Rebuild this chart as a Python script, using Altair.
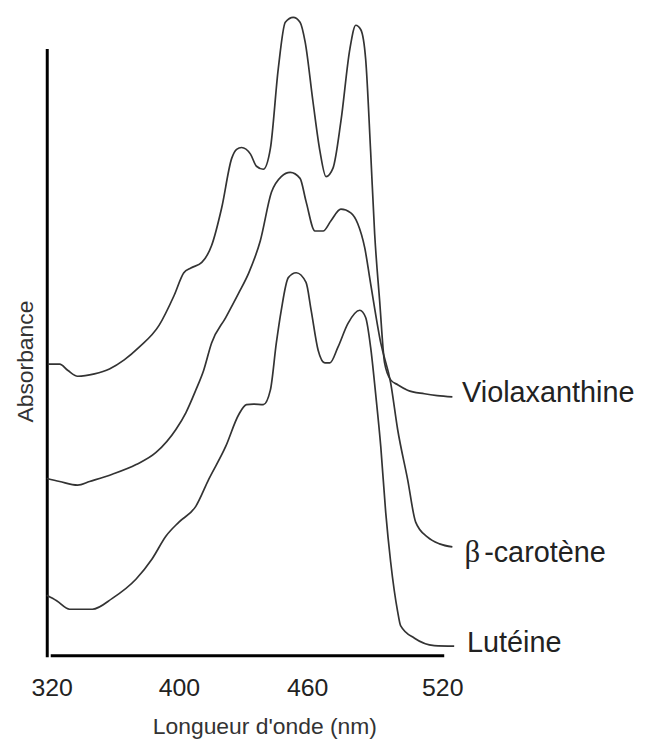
import altair as alt
import pandas as pd

# --- data (wavelength in nm, absorbance in arbitrary units) ---
vio_nm = [317.5, 325.0, 330.0, 336.3, 346.9, 356.3, 365.6, 375.0, 387.5, 396.9,
          402.3, 405.6, 410.7, 415.3, 420.0, 424.7, 427.0, 429.3, 433.5, 436.3,
          439.5, 442.8, 446.5, 449.8, 453.5, 456.7, 459.1, 462.6, 465.7, 468.4,
          471.5, 475.0, 479.0, 481.6, 483.8, 486.0, 488.2, 490.0, 492.2, 494.4,
          497.1, 500.2, 504.6, 512.1, 517.8, 524.5]
vio_abs = [48.1, 48.1, 47.1, 46.1, 46.5, 47.3, 48.8, 50.9, 54.5, 59.4,
           63.2, 64.0, 64.9, 67.7, 73.9, 82.1, 83.6, 83.9, 82.8, 80.8,
           80.3, 83.7, 96.9, 104.6, 105.4, 104.6, 101.3, 91.5, 83.3, 79.1,
           80.5, 88.2, 100.2, 104.1, 103.4, 98.5, 83.3, 69.6, 58.6, 48.3,
           45.5, 44.7, 43.8, 43.2, 42.9, 42.7]

bc_nm = [316.9, 325.0, 336.3, 343.8, 358.1, 373.1, 385.6, 398.1, 403.3, 407.9,
         411.6, 415.3, 421.9, 427.9, 432.6, 438.1, 443.3, 447.9, 452.1, 456.7,
         459.5, 463.5, 467.1, 470.6, 475.0, 479.4, 482.5, 485.6, 488.2, 492.7,
         497.1, 500.2, 504.6, 508.2, 513.5, 518.8, 524.5]
bc_abs = [29.2, 28.7, 28.1, 28.7, 29.9, 31.5, 33.5, 37.3, 40.1, 43.8,
          47.1, 51.6, 55.8, 59.8, 63.1, 68.5, 76.5, 79.1, 79.8, 78.8,
          75.0, 70.1, 70.1, 71.8, 73.7, 73.1, 71.3, 67.3, 61.4, 51.6,
          45.0, 37.3, 29.1, 22.0, 19.5, 18.4, 17.9]

lut_nm = [316.9, 323.1, 331.3, 345.6, 358.1, 373.1, 383.1, 391.9, 400.0, 407.9,
          414.0, 421.9, 427.9, 431.6, 434.9, 439.5, 442.8, 445.6, 447.9, 451.2,
          454.9, 459.5, 461.8, 464.9, 467.9, 470.1, 473.7, 478.1, 483.4, 486.0,
          488.2, 490.4, 492.7, 494.9, 497.1, 500.2, 501.5, 507.7, 516.5, 525.3]
lut_abs = [9.9, 9.0, 7.6, 7.6, 9.4, 12.6, 15.9, 19.7, 22.0, 24.6,
           29.1, 34.5, 39.7, 41.4, 41.5, 41.4, 43.8, 51.6, 57.0, 62.4,
           63.2, 61.6, 57.0, 50.4, 48.3, 48.3, 50.9, 54.8, 57.0, 55.8,
           50.9, 43.3, 34.5, 23.6, 15.4, 7.2, 4.9, 2.8, 1.6, 1.5]

tick_values = [320, 400, 460, 520]

label_text = ["Violaxanthine", "-carotène", "Lutéine"]
label_nm = [528.8, 538.6, 531.0]
label_abs = [41.9, 15.4, 0.6]

beta_text = ["β"]
beta_nm = [529.9]
beta_abs = [15.4]

rows = []
for name, xs, ys in [("Violaxanthine", vio_nm, vio_abs),
                     ("β-carotène", bc_nm, bc_abs),
                     ("Lutéine", lut_nm, lut_abs)]:
    for i, (a, b) in enumerate(zip(xs, ys)):
        rows.append({"pigment": name, "nm": a, "abs": b, "order": i})
df = pd.DataFrame(rows)

labels = pd.DataFrame({"text": label_text, "nm": label_nm, "abs": label_abs})
beta = pd.DataFrame({"text": beta_text, "nm": beta_nm, "abs": beta_abs})

xscale = alt.Scale(domain=tick_values, range=[5, 133, 262, 398], zero=False, nice=False)
yscale = alt.Scale(domain=[0, 100], zero=False, nice=False)

FONT = "Liberation Sans"

x_enc = alt.X("nm:Q", scale=xscale,
              axis=alt.Axis(values=tick_values, format="d", ticks=False, tickSize=0,
                            grid=False, domainColor="#000000", domainWidth=3,
                            domainCap="square",
                            labelFont=FONT, labelFontSize=25, labelColor="#222222",
                            labelPadding=21, labelFlush=False,
                            title="Longueur d'onde (nm)", titleFont=FONT,
                            titleFontSize=23, titleFontWeight="normal",
                            titleColor="#333333", titleX=219, titleY=79,
                            titleAlign="center", titleBaseline="alphabetic"))
y_enc = alt.Y("abs:Q", scale=yscale,
              axis=alt.Axis(ticks=False, labels=False, grid=False,
                            domainColor="#000000", domainWidth=3, domainCap="square",
                            title="Absorbance", titleFont=FONT, titleFontSize=23,
                            titleFontWeight="normal", titleColor="#333333",
                            titleAngle=270, titleX=-14, titleY=313,
                            titleAlign="center", titleBaseline="alphabetic"))

lines = alt.Chart(df).mark_line(color="#333333", strokeWidth=1.7, clip=False,
                                interpolate="monotone").encode(
    x=x_enc, y=y_enc, detail="pigment:N", order="order:Q")

texts = alt.Chart(labels).mark_text(align="left", baseline="alphabetic", font=FONT,
                                    fontSize=29, color="#222222").encode(
    x="nm:Q", y="abs:Q", text="text:N")

beta_mark = alt.Chart(beta).mark_text(align="left", baseline="alphabetic",
                                      font="Liberation Serif", fontSize=31,
                                      color="#222222").encode(
    x="nm:Q", y="abs:Q", text="text:N")

chart = alt.layer(lines, texts, beta_mark).properties(
    width=414, height=609,
    autosize=alt.AutoSizeParams(type="none"),
    padding={"left": 39, "top": 40, "right": 181, "bottom": 84},
    background="#ffffff",
).configure_view(stroke=None)

chart.save("out.html", embed_options={"renderer": "svg", "actions": False})
